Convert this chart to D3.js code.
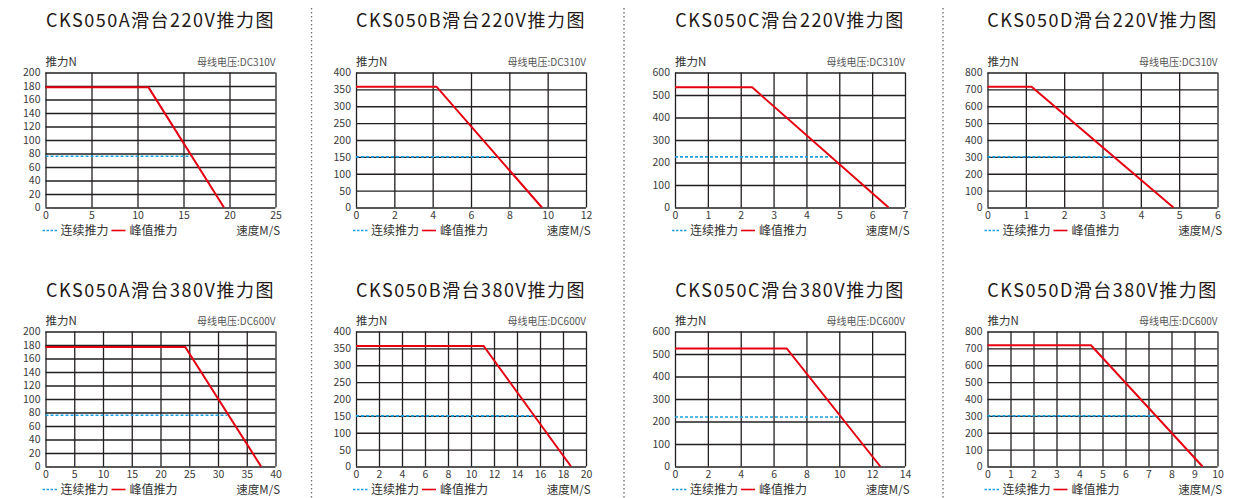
<!DOCTYPE html>
<html><head><meta charset="utf-8">
<script src="https://cdn.jsdelivr.net/npm/d3@7/dist/d3.min.js"></script>
<style>
html,body{margin:0;padding:0;background:#fff;}
svg{display:block;}
text{font-family:"Noto Sans CJK SC","Noto Sans",sans-serif;}
</style></head>
<body>
<svg id="c" width="1253" height="498"></svg>
<script>
const titles = ["CKS050A滑台220V推力图","CKS050B滑台220V推力图","CKS050C滑台220V推力图","CKS050D滑台220V推力图",
                "CKS050A滑台380V推力图","CKS050B滑台380V推力图","CKS050C滑台380V推力图","CKS050D滑台380V推力图"];
const voltages = ["DC310V","DC310V","DC310V","DC310V","DC600V","DC600V","DC600V","DC600V"];
const xMax  = [25,12,7,6,40,20,14,10];
const xStep = [5,2,1,1,5,2,2,1];
const yMax  = [200,400,600,800,200,400,600,800];
const yStep = [20,50,100,100,20,50,100,100];
const peakForce = [178,358,534,715,177,357,525,718];
const peakKnee  = [11.2,4.2,2.35,1.15,24.3,11.1,6.8,4.5];
const peakZero  = [19.4,9.7,6.5,4.85,37.5,18.7,12.5,9.35];
const contForce = [76,150,225,300,76,150,220,300];
const contEnd   = [15.9,7.4,4.77,3.3,31.6,15.5,10.05,7.32];
const legendLabels = ["连续推力","峰值推力"];
const yLabel = "推力N", xLabel = "速度M/S", voltPrefix = "母线电压:";

const svg = d3.select("#c");
const lefts = [45.5,356,675,987.5];
const tops = [72.5,331.5];
const W = 230, H = 135;
const titleBase = [26.7,296.5];
const gridC = "#231f20";

// dotted separators
[311.5,624,943].forEach(x=>{
  svg.append("line").attr("x1",x).attr("x2",x).attr("y1",8).attr("y2",498)
    .attr("stroke","#777").attr("stroke-width",1.4).attr("stroke-dasharray","1.4,2.6");
});

titles.forEach((t,i)=>{
  const col = i%4, row = Math.floor(i/4);
  const L = lefts[col], T = tops[row];
  const g = svg.append("g");
  const x = d3.scaleLinear().domain([0,xMax[i]]).range([L,L+W]);
  const y = d3.scaleLinear().domain([0,yMax[i]]).range([T+H,T]);
  const xt = d3.range(0,xMax[i]+1e-9,xStep[i]);
  const yt = d3.range(0,yMax[i]+1e-9,yStep[i]);

  // title
  g.append("text").attr("x",L+W/2).attr("y",titleBase[row]).attr("text-anchor","middle")
    .attr("font-size",18).attr("font-weight",400).attr("letter-spacing",1.5).attr("fill","#231815").text(t);

  // grid via axes
  const ya = g.append("g").attr("transform",`translate(${L},0)`)
    .call(d3.axisLeft(y).tickValues(yt).tickSizeInner(-W).tickSizeOuter(0).tickPadding(5).tickFormat(d3.format("d")));
  const xa = g.append("g").attr("transform",`translate(0,${T+H})`)
    .call(d3.axisBottom(x).tickValues(xt).tickSizeInner(-H).tickSizeOuter(0).tickPadding(4).tickFormat(d3.format("d")));
  [ya,xa].forEach(a=>{
    a.select(".domain").remove();
    a.selectAll("line").attr("stroke",gridC).attr("stroke-width",1.3);
    a.selectAll("text").attr("fill","#3a3a3a").attr("font-size",10.5)
      .attr("font-family","'Noto Sans CJK SC','Noto Sans',sans-serif");
  });

  // continuous (blue dashed)
  const line = d3.line().x(d=>x(d[0])).y(d=>y(d[1]));
  g.append("path").attr("d",line([[0,contForce[i]],[contEnd[i],contForce[i]]]))
    .attr("fill","none").attr("stroke","#1a9fe0").attr("stroke-width",1.6).attr("stroke-dasharray","3,2");
  // peak (red)
  g.append("path").attr("d",line([[0,peakForce[i]],[peakKnee[i],peakForce[i]],[peakZero[i],0]]))
    .attr("fill","none").attr("stroke","#e50012").attr("stroke-width",2);

  // axis labels
  g.append("text").attr("x",L).attr("y",T-6.5).attr("font-size",11.5).attr("fill","#333").text(yLabel);
  g.append("text").attr("x",L+W).attr("y",T-7).attr("text-anchor","end").attr("font-size",10).attr("fill","#555").text(voltPrefix+voltages[i]);

  // legend
  const ly = T+H+23;
  g.append("line").attr("x1",L-3).attr("x2",L+12).attr("y1",ly).attr("y2",ly)
    .attr("stroke","#1a9fe0").attr("stroke-width",1.3).attr("stroke-dasharray","2.5,1.5");
  g.append("text").attr("x",L+15).attr("y",ly+4.2).attr("font-size",12).attr("fill","#333").text(legendLabels[0]);
  g.append("line").attr("x1",L+66).attr("x2",L+80).attr("y1",ly).attr("y2",ly)
    .attr("stroke","#e50012").attr("stroke-width",1.6);
  g.append("text").attr("x",L+84).attr("y",ly+4.2).attr("font-size",12).attr("fill","#333").text(legendLabels[1]);
  g.append("text").attr("x",L+W+4.5).attr("y",ly+4.2).attr("text-anchor","end").attr("font-size",11.5).attr("fill","#333").text(xLabel);
});
</script>
</body></html>
